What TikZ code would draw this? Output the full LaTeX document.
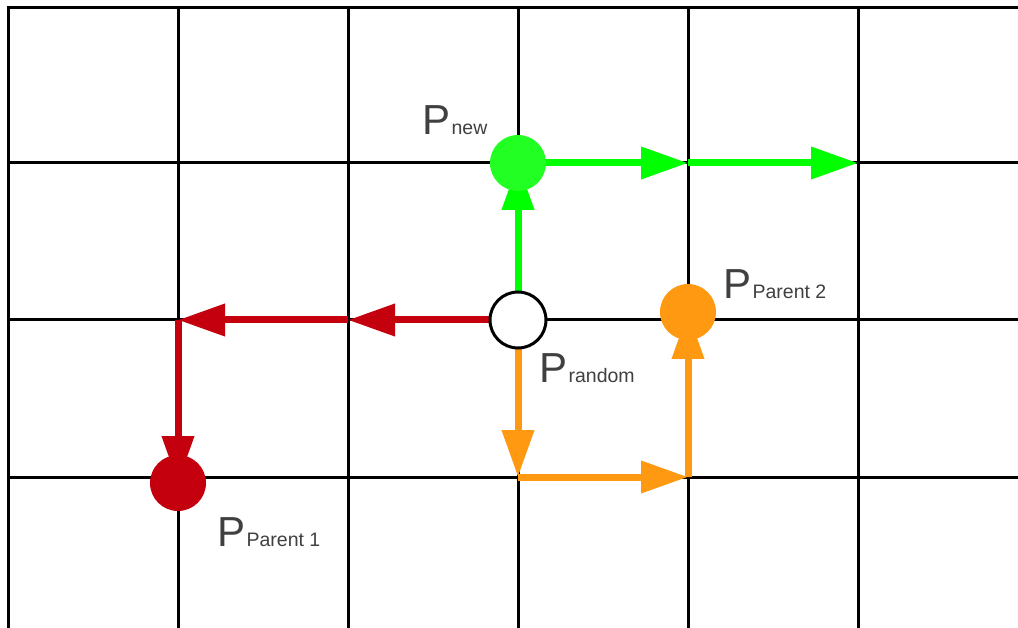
\documentclass[tikz,border=0pt]{standalone}
\usepackage{fontspec}
\setmainfont{Liberation Sans}
\usetikzlibrary{arrows.meta}
\definecolor{gridblack}{HTML}{000000}
\definecolor{newgreen}{HTML}{22FF22}
\definecolor{arrgreen}{HTML}{00FF00}
\definecolor{parorange}{HTML}{FF9912}
\definecolor{parred}{HTML}{C4000E}
\definecolor{labelgray}{HTML}{404040}
\tikzset{
  gridline/.style={draw=gridblack, line width=3pt},
  steparrow/.style={line width=7pt, -{Triangle[length=47pt,width=31pt]}},
  dot/.style={circle, inner sep=0pt, minimum size=56pt},
  bigP/.style={anchor=base west, inner sep=0pt, text=labelgray, font=\fontsize{42}{42}\selectfont},
  subtext/.style={anchor=base west, inner sep=0pt, text=labelgray, font=\fontsize{19.5}{19.5}\selectfont, xshift=1pt},
}
\begin{document}
\begin{tikzpicture}[x=1pt, y=-1pt]
\useasboundingbox (0,0) rectangle (1018,628);
\fill[white] (0,0) rectangle (1018,628);

% grid
\foreach \gx in {8,178,348,518,688,858}
  \draw[gridline] (\gx,6.5) -- (\gx,628);
\foreach \gy in {8,163,320,477}
  \draw[gridline] (6.5,\gy) -- (1018,\gy);

% grid corners the paths pass through
\coordinate (gA) at (688,163);
\coordinate (gB) at (858,163);
\coordinate (gC) at (348,320);
\coordinate (gD) at (178,320);
\coordinate (gE) at (518,477);
\coordinate (gF) at (688,477);

% points
\coordinate (cnew) at (518,163);
\coordinate (crand) at (518,320);
\coordinate (cpar1) at (178,483);
\coordinate (cpar2) at (688,312);

% green path
\draw[steparrow, arrgreen] (crand) -- (cnew);
\draw[steparrow, arrgreen] (cnew) -- (gA);
\draw[steparrow, arrgreen] (gA) -- (gB);

% red path
\draw[steparrow, parred] (crand) -- (gC);
\draw[steparrow, parred] (gC) -- (gD);
\draw[steparrow, parred] (gD) -- (cpar1);

% orange path
\draw[steparrow, parorange] (crand) -- (gE);
\draw[steparrow, parorange] (gE) -- (gF);
\draw[steparrow, parorange] (gF) -- (cpar2);

% dots
\node[dot, fill=newgreen] (pnew) at (cnew) {};
\node[dot, fill=white, draw=black, line width=3pt] (prand) at (crand) {};
\node[dot, fill=parred] (ppar1) at (cpar1) {};
\node[dot, fill=parorange] (ppar2) at (cpar2) {};

% labels
\node[bigP] (lnew) at (422,135) {P};
\node[subtext] (lnews) at (lnew.base east) {new};
\node[bigP] (lrand) at (539,383) {P};
\node[subtext] (lrands) at (lrand.base east) {random};
\node[bigP] (lpar2) at (723,299) {P};
\node[subtext] (lpar2s) at (lpar2.base east) {Parent 2};
\node[bigP] (lpar1) at (217,546) {P};
\node[subtext] (lpar1s) at (lpar1.base east) {Parent 1};
\end{tikzpicture}
\end{document}
